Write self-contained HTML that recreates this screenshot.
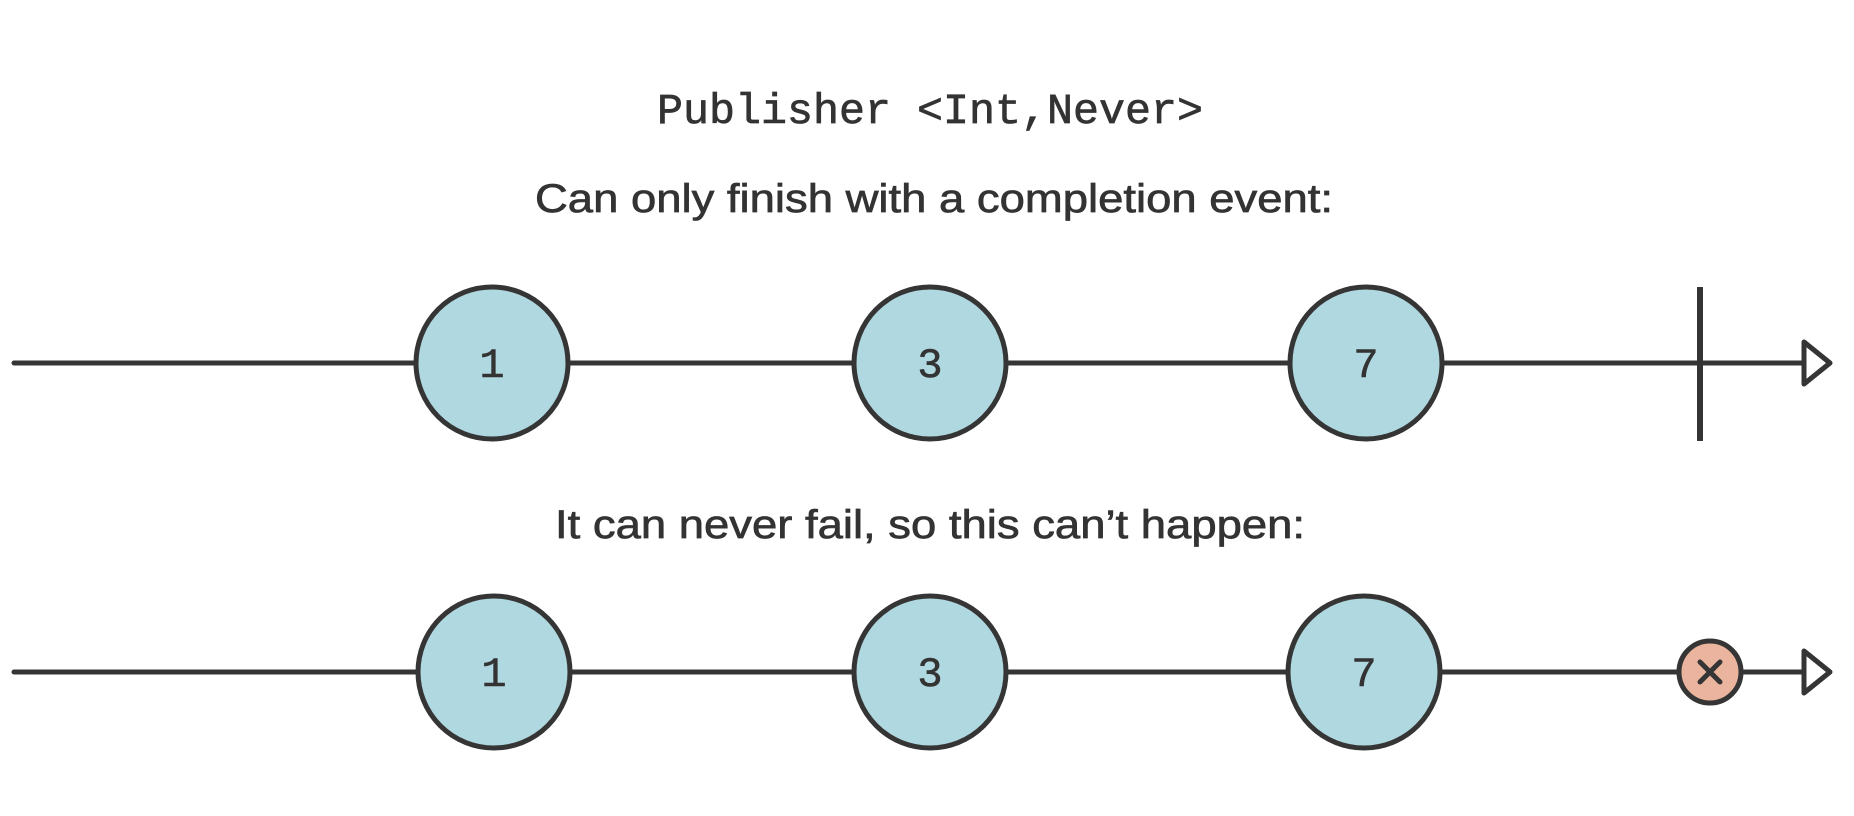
<!DOCTYPE html>
<html><head><meta charset="utf-8"><style>
html,body{margin:0;padding:0;background:#fff;}
svg{display:block;}
</style></head><body>
<svg width="1854" height="816" viewBox="0 0 1854 816" xmlns="http://www.w3.org/2000/svg">
<rect width="1854" height="816" fill="#fff"/>
<g fill="#333" stroke="#333" stroke-width="0.7" font-family="Liberation Sans, sans-serif">
<text x="657" y="123" font-family="Liberation Mono, monospace" font-size="43" textLength="546" lengthAdjust="spacingAndGlyphs">Publisher &lt;Int,Never&gt;</text>
<text x="535" y="212" font-size="40" textLength="798" lengthAdjust="spacingAndGlyphs">Can only finish with a completion event:</text>
<text x="555" y="538" font-size="40" textLength="750" lengthAdjust="spacingAndGlyphs">It can never fail, so this can’t happen:</text>
</g>
<g stroke="#353535" stroke-width="5" fill="none" stroke-linejoin="round" stroke-linecap="round">
<line x1="14" y1="363" x2="1802" y2="363"/>
<line x1="1700" y1="287" x2="1700" y2="441" stroke-linecap="butt" stroke-width="6"/>
<polygon points="1804,342 1830,363 1804,384" fill="#fff"/>
<line x1="14" y1="672" x2="1802" y2="672"/>
<polygon points="1804,651 1830,672 1804,693" fill="#fff"/>
</g>
<g stroke="#353535" stroke-width="5" fill="#b0d8e0">
<circle cx="492" cy="363" r="76"/>
<circle cx="930" cy="363" r="76"/>
<circle cx="1366" cy="363" r="76"/>
<circle cx="494" cy="672" r="76"/>
<circle cx="930" cy="672" r="76"/>
<circle cx="1364" cy="672" r="76"/>
<circle cx="1710" cy="672" r="31" fill="#ebb49e"/>
</g>
<g stroke="#353535" stroke-width="5" stroke-linecap="round">
<line x1="1700" y1="662" x2="1720" y2="682"/>
<line x1="1720" y1="662" x2="1700" y2="682"/>
</g>
<g fill="#333" stroke="#333" stroke-width="0.6" font-family="Liberation Mono, monospace" font-size="42" text-anchor="middle">
<text x="492" y="377">1</text>
<text x="930" y="377">3</text>
<text x="1366" y="377">7</text>
<text x="494" y="686">1</text>
<text x="930" y="686">3</text>
<text x="1364" y="686">7</text>
</g>
</svg>
</body></html>
